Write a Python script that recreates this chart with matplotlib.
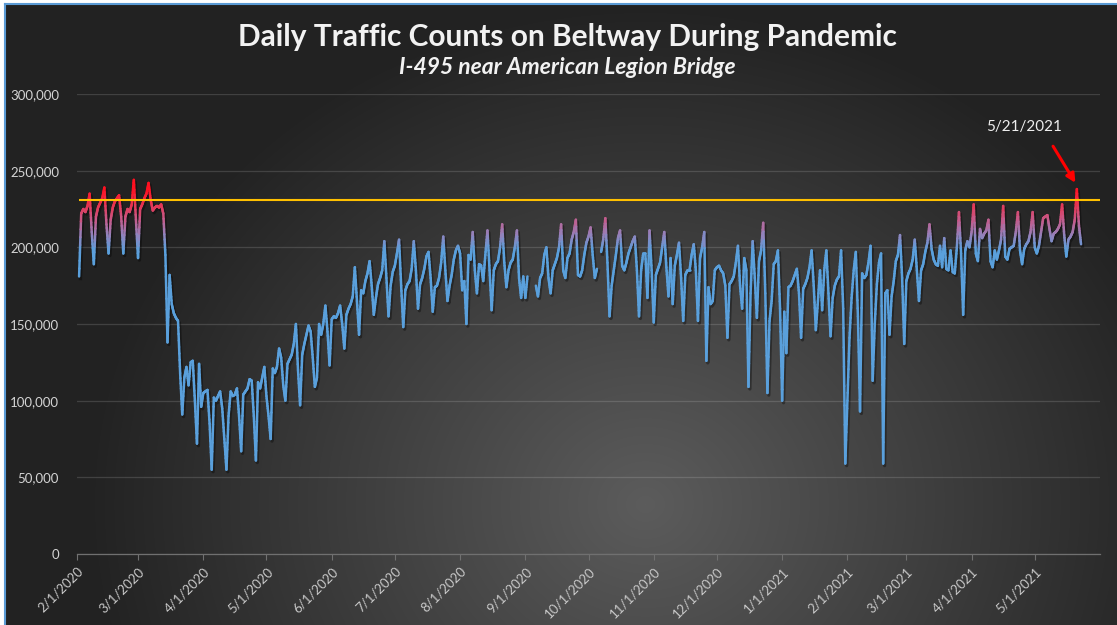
import numpy as np
import pandas as pd
import matplotlib
matplotlib.use('Agg')
from matplotlib import pyplot as plt
import matplotlib.dates as mdates
from matplotlib.collections import LineCollection
from matplotlib.colors import LinearSegmentedColormap, Normalize
from matplotlib.ticker import FuncFormatter
import matplotlib.transforms as mtransforms

nan = np.nan

# daily counts (thousands), starting 2/2/2020
feb_2020 = [181, 222, 225, 223, 227, 235, 210,
            189, 220, 226, 229, 232, 239, 215,
            196, 218, 226, 230, 232, 234, 220,
            196, 220, 225, 223, 228, 244, 218]
mar_2020 = [193, 225, 228, 232, 235, 242, 231,
            224, 226, 227, 226, 228, 222, 195,
            138, 182, 163, 157, 154, 152, 118,
            91, 115, 122, 110, 125, 126, 100,
            72, 124, 96]
apr_2020 = [105, 106, 107, 85, 55, 102, 100,
            103, 106, 95, 75, 55, 90, 106,
            103, 104, 108, 90, 67, 104, 106,
            108, 114, 113, 90, 61, 112, 108,
            115, 122]
may_2020 = [103, 90, 75, 121, 118, 122, 134,
            128, 110, 100, 124, 127, 130, 137,
            150, 120, 97, 130, 137, 143, 149,
            145, 128, 109, 115, 150, 143, 150,
            162, 145, 123]
jun_2020 = [153, 155, 154, 157, 162, 150, 134,
            156, 160, 163, 168, 187, 165, 143,
            172, 170, 178, 183, 191, 175, 156,
            167, 176, 180, 185, 204, 180, 155,
            175, 184]
jul_2020 = [188, 196, 205, 175, 148,
            172, 176, 178, 186, 204, 185, 160,
            176, 180, 186, 194, 197, 180, 158,
            174, 175, 180, 190, 207, 185, 165,
            175, 182, 192, 198, 201]
aug_2020 = [196, 172, 178, 150, 195, 192, 210,
            185, 170, 189, 188, 178, 195, 211,
            185, 159, 185, 189, 191, 200, 215,
            190, 174, 185, 190, 192, 200, 211,
            180, 167, 181]
sep_2020 = [167, 181, nan, nan, nan, 175, 168,
            180, 183, 195, 200, 180, 170,
            185, 189, 193, 200, 215, 185, 180,
            193, 196, 205, 210, 218, 182, 181,
            185, 195, 203]
oct_2020 = [207, 213, 195, 180, 186, nan, 197, 205, 219, 190, 155,
            175, 185, 195, 206, 211, 188, 185,
            190, 196, 200, 204, 207, 185, 155,
            185, 196, 196, 167, 211, 185]
nov_2020 = [151, 182, 186, 190, 200, 210, 187,
            168, 193, 163, 188, 195, 203, 180,
            152, 182, 185, 185, 195, 202, 185,
            152, 193, 200, 210, 126, 174, 163,
            165, 185]
dec_2020 = [187, 188, 185, 183, 175, 141,
            176, 178, 181, 190, 201, 175, 160,
            193, 185, 109, 170, 204, 180, 154,
            191, 198, 216, 170, 105, 152, 165,
            189, 191, 198, 160]
jan_2021 = [100, 158, 131,
            174, 175, 178, 182, 186, 170, 141,
            173, 176, 180, 187, 198, 175, 146,
            165, 185, 159, 185, 198, 170, 142,
            167, 175, 179, 181, 198, 160, 59]
feb_2021 = [100, 141, 167, 185, 197, 155, 93,
            183, 180, 182, 190, 201, 113, 150,
            176, 190, 196, 59, 170, 172, 143,
            168, 178, 191, 195, 208, 180, 137]
mar_2021 = [178, 183, 186, 192, 205, 185, 165,
            185, 189, 197, 203, 215, 199, 192,
            189, 188, 201, 187, 206, 186, 185,
            198, 184, 183, 200, 223, 196, 156,
            198, 204, 200]
apr_2021 = [210, 228, 196, 191,
            212, 206, 209, 211, 218, 191, 187,
            198, 192, 198, 205, 227, 194, 192,
            199, 200, 201, 210, 223, 198, 189,
            199, 202, 204, 210, 223]
may_2021 = [200, 196, 201, 210, 219, 220, 221, 212, 204,
            209, 210, 212, 215, 228, 208, 194,
            205, 207, 210, 218, 238, 214, 202]

months = [feb_2020, mar_2020, apr_2020, may_2020, jun_2020, jul_2020,
          aug_2020, sep_2020, oct_2020, nov_2020, dec_2020, jan_2021,
          feb_2021, mar_2021, apr_2021, may_2021]
counts = np.array(sum(months, []), dtype=float) * 1000
dates = pd.date_range('2020-02-02', periods=len(counts), freq='D')

threshold = 231000
y_ticks = [0, 50000, 100000, 150000, 200000, 250000, 300000]
x_ticks = pd.date_range('2020-02-01', '2021-05-01', freq='MS')
x_labels = [f'{d.month}/{d.day}/{d.year}' for d in x_ticks]
note_text = '5/21/2021'

plt.rcParams['font.family'] = ['Lato', 'DejaVu Sans']

W, H = 1117, 625
fig = plt.figure(figsize=(W / 100, H / 100), dpi=100, facecolor='white')

# radial dark background
bg = fig.add_axes([5 / W, 0, 1 - 5 / W, 1 - 4 / H], zorder=-10)
yy, xx = np.mgrid[0:H - 4, 0:W - 5]
r = np.sqrt(((xx - 640) / 560.0) ** 2 + ((yy - 500) / 500.0) ** 2)
r = np.clip(r, 0, 1)
shade = (0x5c + (0x22 - 0x5c) * r) / 255.0
bg.imshow(np.dstack([shade, shade, shade]), aspect='auto', interpolation='bilinear')
bg.set_axis_off()
fig.add_artist(plt.Line2D([5 / W, 5 / W], [0, 1 - 4 / H], color='#5B9BD5', lw=1.5))
fig.add_artist(plt.Line2D([5 / W, 1], [1 - 4 / H, 1 - 4 / H], color='#5B9BD5', lw=1.5))

ax = fig.add_axes([77 / W, 1 - 554 / H, (1100 - 77) / W, (554 - 94) / H])
ax.set_facecolor('none')

# gradient-coloured line
xnum = mdates.date2num(dates)
cmap = LinearSegmentedColormap.from_list(
    'traffic', ['#5AA0DC', '#9482BC', '#C65A8A', '#E83450', '#FF1020'])
norm = Normalize(198000, 238000)
segs, vals = [], []
steps = 8
for i in range(len(counts) - 1):
    if np.isnan(counts[i]) or np.isnan(counts[i + 1]):
        continue
    xs = np.linspace(xnum[i], xnum[i + 1], steps + 1)
    ys = np.linspace(counts[i], counts[i + 1], steps + 1)
    for k in range(steps):
        segs.append([(xs[k], ys[k]), (xs[k + 1], ys[k + 1])])
        vals.append((ys[k] + ys[k + 1]) / 2)

shadow_tr = mtransforms.offset_copy(ax.transData, fig=fig, x=1.0, y=-1.5, units='points')
ax.plot(dates, counts, color='black', alpha=0.35, lw=2.4, transform=shadow_tr, zorder=2)
lc = LineCollection(segs, colors=cmap(norm(np.array(vals))), linewidths=1.8,
                    capstyle='round', joinstyle='round', zorder=3)
ax.add_collection(lc)

ax.hlines(threshold, dates[0], pd.Timestamp('2021-06-01'), color='#FFC000', lw=1.5, zorder=4)

ax.set_xlim(pd.Timestamp('2020-02-01'), pd.Timestamp('2021-06-01'))
ax.set_ylim(0, 300000)

ax.set_yticks(y_ticks)
ax.yaxis.set_major_formatter(FuncFormatter(lambda v, p: f'{int(v):,}'))
ax.tick_params(axis='y', length=0, pad=13, labelsize=9.5, labelcolor='#d4d4d4')
ax.set_xticks(x_ticks)
ax.set_xticklabels(x_labels, rotation=45, ha='right', rotation_mode='anchor')
ax.tick_params(axis='x', length=4, width=0.8, color='#707070', pad=4,
               labelsize=9.5, labelcolor='#c8c8c8')

ax.grid(axis='y', color='white', alpha=0.14, lw=0.9)
ax.set_axisbelow(True)
for name, sp in ax.spines.items():
    sp.set_visible(name == 'bottom')
ax.spines['bottom'].set_color('#707070')
ax.spines['bottom'].set_linewidth(0.9)

# annotation
ax.text(pd.Timestamp('2021-04-26'), 278500, note_text, color='#eeeeee',
        fontsize=11, ha='center', va='center')
ax.annotate('', xy=(pd.Timestamp('2021-05-21'), 240500),
            xytext=(pd.Timestamp('2021-05-09'), 267500),
            arrowprops=dict(arrowstyle='-|>', color='#FF0000', lw=2.2, mutation_scale=13))

fig.text(567 / W, 1 - 37 / H, 'Daily Traffic Counts on Beltway During Pandemic',
         ha='center', va='center', fontsize=21.5, fontweight='bold', color='#f2f2f2')
fig.text(567 / W, 1 - 68 / H, 'I-495 near American Legion Bridge',
         ha='center', va='center', fontsize=16.5, fontweight='bold', fontstyle='italic',
         color='#f2f2f2')

fig.savefig('out.png', dpi=100, facecolor=fig.get_facecolor())
